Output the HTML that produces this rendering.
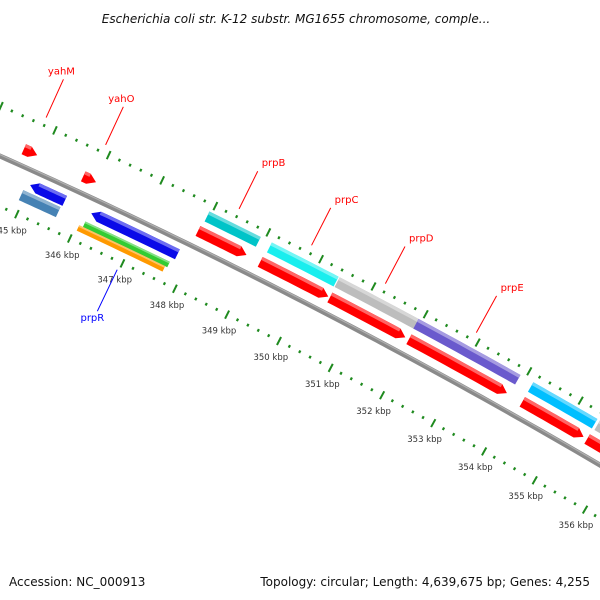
<!DOCTYPE html>
<html><head><meta charset="utf-8"><style>
html,body{margin:0;padding:0;background:#fff;}
svg{display:block;font-family:"DejaVu Sans","Liberation Sans",sans-serif;}
</style></head><body>
<svg id="map" width="600" height="600" viewBox="0 0 600 600" xmlns="http://www.w3.org/2000/svg">
<rect width="600" height="600" fill="#fff"/>
<text x="296" y="23" font-size="12" font-style="italic" text-anchor="middle" fill="#111">Escherichia coli str. K-12 substr. MG1655 chromosome, comple...</text>
<g id="ticks"></g>
<g id="backbone"></g>
<g id="features"></g>
<g id="labels"></g>
<text x="9" y="586" font-size="12" fill="#111">Accession: NC_000913</text>
<text x="590" y="586" font-size="12" text-anchor="end" fill="#111">Topology: circular; Length: 4,639,675 bp; Genes: 4,255</text>
</svg>
<script>
// feature data (kbp)
const featStart = [344.65, 345.76, 345.0, 344.93, 346.15, 346.12, 346.05, 347.92, 347.95, 349.1, 349.13, 350.43, 350.42, 351.95, 351.93, 354.15, 354.15, 355.42, 355.45];
const featEnd   = [344.9, 346.0, 345.65, 345.63, 347.78, 347.72, 347.68, 348.84, 348.92, 350.4, 350.4, 351.88, 351.95, 353.85, 353.9, 355.35, 355.4, 357.2, 357.2];
const featStrand = [1, 1, -1, 0, -1, 0, 0, 1, 0, 1, 0, 1, 0, 1, 0, 1, 0, 1, 0];
const featSlot = [1, 1, -1, -2, -1, -2, -3, 1, 2, 1, 2, 1, 2, 1, 2, 1, 2, 1, 2];
const featColor = ["#ff0000","#ff0000","#0a0ae8","#4682b4","#0a0ae8","#33cc33","#ff9900","#ff0000","#00c4c8","#ff0000","#19eeee","#ff0000","#bdbdbd","#ff0000","#6a5acd","#ff0000","#00bfff","#ff0000","#bdbdbd"];
const labelText = ["yahM","yahO","prpR","prpB","prpC","prpD","prpE"];
const labelFeat = [0, 1, 4, 7, 9, 11, 13];
const labelColor = ["#ff0000","#ff0000","#0000ff","#ff0000","#ff0000","#ff0000","#ff0000"];
const tickStart = 344.0, tickEnd = 357.6, tickStep = 0.2;

const CX = -2490, CY = 5728, R0 = 6103;
const NS = "http://www.w3.org/2000/svg";
function ang(k){ return (-65.0 + (k - 346) * 0.551) * Math.PI / 180; }
function pt(k, r){ const a = ang(k); return [CX + r * Math.cos(a), CY + r * Math.sin(a)]; }
function mk(tag, attrs, parent){ const e = document.createElementNS(NS, tag); for (const k in attrs) e.setAttribute(k, attrs[k]); parent.appendChild(e); return e; }
function arcPts(s, e, r, n){ const out = []; for (let i = 0; i <= n; i++){ out.push(pt(s + (e - s) * i / n, r)); } return out; }
function fmt(p){ return p.map(q => q[0].toFixed(2) + "," + q[1].toFixed(2)).join(" "); }

// backbone
const bb = document.getElementById("backbone");
const bpath = arcPts(344.0, 357.6, R0, 60);
const b1 = mk("polyline", {points: fmt(bpath), fill: "none", stroke: "#8a8a8a", "stroke-width": 5}, bb);


const b2 = mk("polyline", {points: fmt(arcPts(344.0, 357.6, R0 + 1.3, 60)), fill: "none", stroke: "#b0b0b0", "stroke-width": 1.2}, bb);



// ticks
const tg = document.getElementById("ticks");
const nT = Math.round((tickEnd - tickStart) / tickStep);
for (let i = 0; i <= nT; i++){
  const k = tickStart + i * tickStep;
  const major = Math.abs(k - Math.round(k)) < 1e-6;
  [R0 + 46, R0 - 46].forEach(function(rr, j){
    const h = major ? 4.5 : 1.4;
    const p1 = pt(k, rr - h), p2 = pt(k, rr + h);
    const l = mk("line", {x1: p1[0], y1: p1[1], x2: p2[0], y2: p2[1], stroke: "#1f8a1f", "stroke-width": major ? 2 : 2.2}, tg);
    
    
  });
  if (major){
    const p = pt(k, R0 - 64);
    const t = mk("text", {x: p[0], y: p[1] + 3, "font-size": 8.5, "text-anchor": "middle", fill: "#333"}, tg);
    t.textContent = Math.round(k) + " kbp";
    
    
  }
}

// features
const fg = document.getElementById("features");
function slotR(s){ return s > 0 ? (s === 1 ? R0 + 16 : R0 + 33) : (s === -1 ? R0 - 14 : (s === -2 ? R0 - 27 : R0 - 33)); }
function slotTh(i){ return (featColor[i] === "#33cc33" || featColor[i] === "#ff9900") ? 6 : 11; }
function lighten(c){ const n = parseInt(c.slice(1), 16); let r = n >> 16, g = (n >> 8) & 255, b = n & 255; r = Math.round(r + (255 - r) * 0.4); g = Math.round(g + (255 - g) * 0.4); b = Math.round(b + (255 - b) * 0.4); return "rgb(" + r + "," + g + "," + b + ")"; }
for (let i = 0; i < featStart.length; i++){
  const s = featStart[i], e = featEnd[i], rc = slotR(featSlot[i]), th = slotTh(i);
  const ro = rc + th / 2, ri = rc - th / 2;
  const head = 0.14;
  let poly;
  if (featStrand[i] === 1){
    const he = Math.max(s, e - head);
    poly = arcPts(s, he, ro, 12).concat([pt(e, rc)]).concat(arcPts(he, s, ri, 12));
  } else if (featStrand[i] === -1){
    const hs = Math.min(e, s + head);
    poly = [pt(s, rc)].concat(arcPts(hs, e, ro, 12)).concat(arcPts(e, hs, ri, 12));
  } else {
    poly = arcPts(s, e, ro, 12).concat(arcPts(e, s, ri, 12));
  }
  const g = mk("g", {}, fg);
  
  
  mk("polygon", {points: fmt(poly), fill: featColor[i]}, g);
  // light top stripe
  const hs2 = featStrand[i] === -1 ? s + head : s;
  const he2 = featStrand[i] === 1 ? e - head : e;
  const st = arcPts(hs2, he2, ro, 12).concat(arcPts(he2, hs2, ro - th * 0.3, 12));
  mk("polygon", {points: fmt(st), fill: lighten(featColor[i])}, g);
}

// labels
const lg = document.getElementById("labels");
for (let j = 0; j < labelText.length; j++){
  const i = labelFeat[j];
  const m = (featStart[i] + featEnd[i]) / 2;
  const up = featSlot[i] > 0;
  const pa = pt(m, up ? R0 + 54 : R0 - 54), pb = pt(m, up ? R0 + 96 : R0 - 100);
  const l = mk("line", {x1: pa[0], y1: pa[1], x2: pb[0], y2: pb[1], stroke: labelColor[j], "stroke-width": 1}, lg);
  
  
  let x = pb[0], y = pb[1], anchor = "start";
  if (!up){ anchor = "middle"; y += 10; x -= 5; }
  else if (labelText[j].startsWith("yah")){ anchor = "middle"; y -= 5; x -= 2; }
  else { x += 4; y -= 5; }
  const t = mk("text", {x: x, y: y, "font-size": 10, "text-anchor": anchor, fill: labelColor[j]}, lg);
  t.textContent = labelText[j];
  
  
}
</script>
</body></html>
